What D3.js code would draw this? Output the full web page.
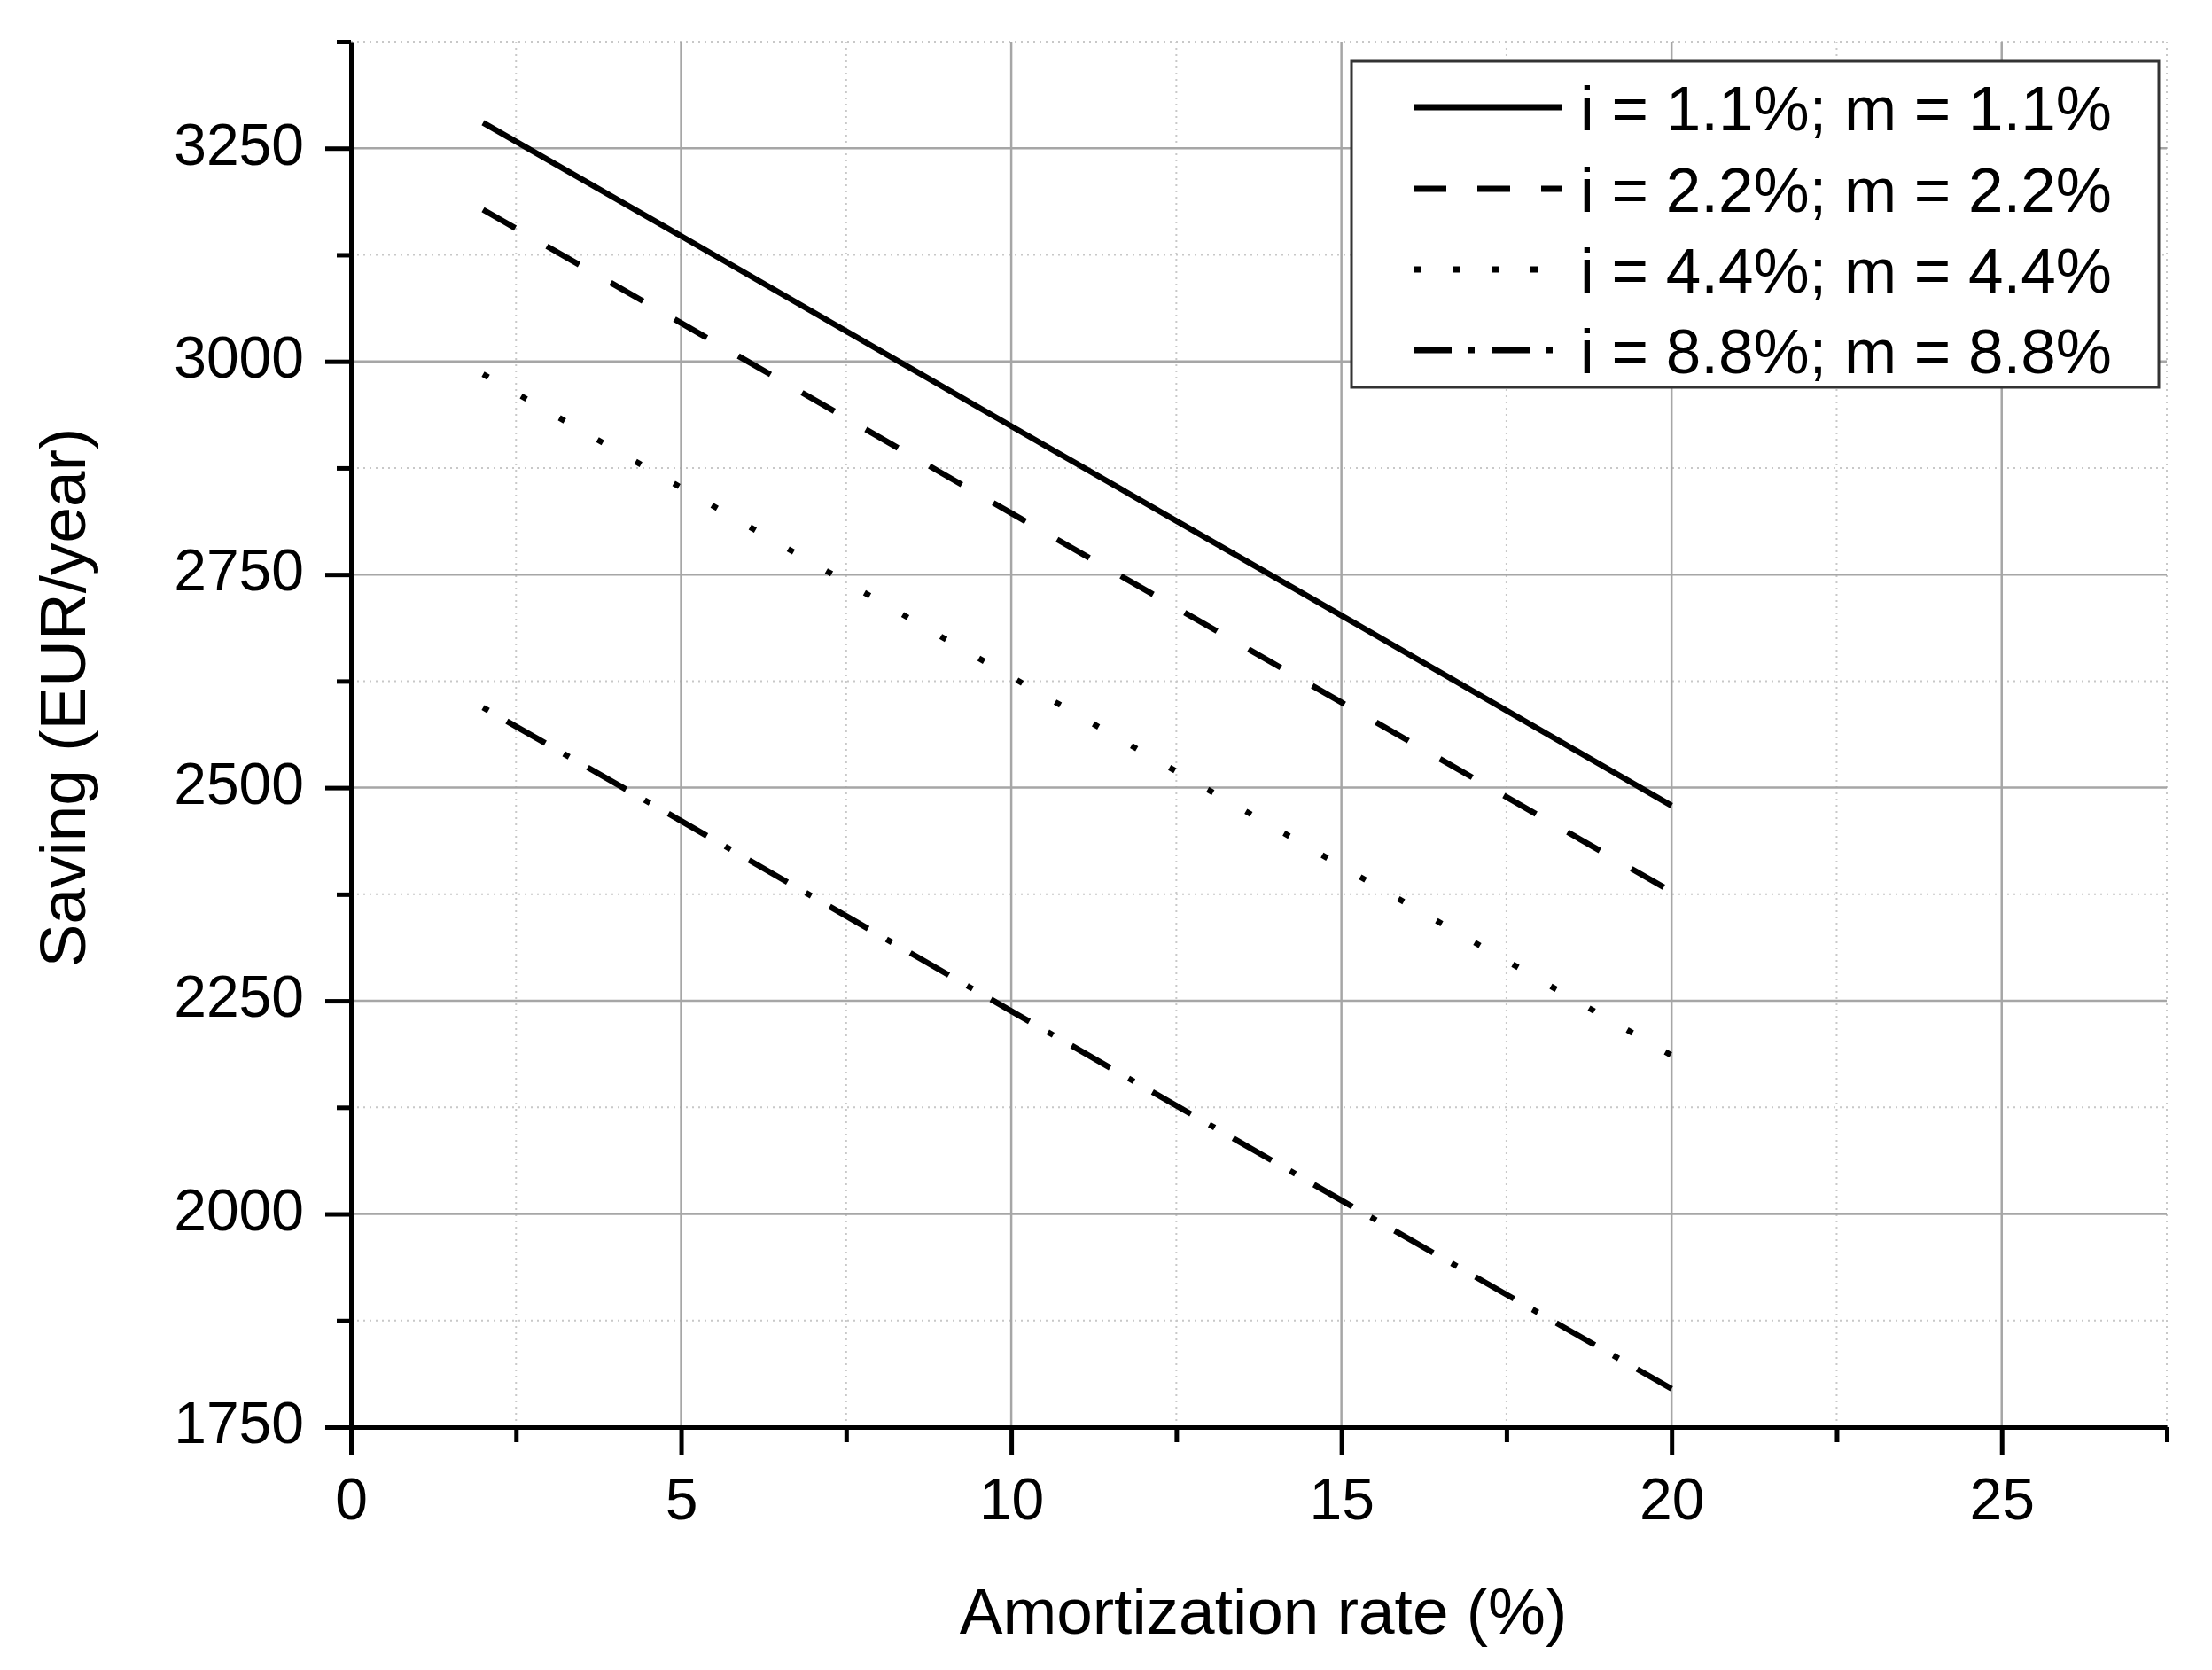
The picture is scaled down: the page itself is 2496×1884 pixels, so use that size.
<!DOCTYPE html>
<html>
<head>
  <meta charset="utf-8">
  <script src="https://d3js.org/d3.v7.min.js"></script>
  <style>
    body { margin: 0; background: #fff; }
    text { font-family: "Liberation Sans", Arial, sans-serif; fill: #000; }
  </style>
</head>
<body>
<script>
  // amortization rate (%) on the x axis
  var rates = [2, 5, 10, 15, 20];
  // saving (EUR/year) for each interest / maintenance pair
  var saving11 = [3280, 3147, 2924, 2702, 2479];
  var saving22 = [3178, 3045, 2822, 2600, 2378];
  var saving44 = [2985, 2852, 2630, 2408, 2186];
  var saving88 = [2594, 2461, 2238, 2016, 1795];
  var seriesNames = ["i = 1.1%; m = 1.1%", "i = 2.2%; m = 2.2%", "i = 4.4%; m = 4.4%", "i = 8.8%; m = 8.8%"];
  var xTicks = [0, 5, 10, 15, 20, 25];
  var xMinor = [2.5, 7.5, 12.5, 17.5, 22.5, 27.5];
  var yTicks = [1750, 2000, 2250, 2500, 2750, 3000, 3250];
  var yMinor = [1875, 2125, 2375, 2625, 2875, 3125, 3375];

  var W = 2496, H = 1884;
  // plot area edges (window.top is reserved, so prefixed names)
  var pLeft = 396, pTop = 47, pRight = 2445, pBottom = 1610;

  var series = [saving11, saving22, saving44, saving88].map(function (v, i) {
    return { name: seriesNames[i], points: rates.map(function (r, j) { return [r, v[j]]; }) };
  });
  // dash styles: on the plot and (a bit tighter) in the legend
  var dashPlot = [null, "42,41", "7,42.6", "7,24,50,24"];
  var dashLegend = [null, "37,35", "8,36", "43,19,7,19"];

  var svg = d3.select("body").append("svg")
      .attr("width", W).attr("height", H);
  svg.append("rect").attr("width", W).attr("height", H).attr("fill", "#fff");

  var x = d3.scaleLinear().domain([0, 27.5]).range([pLeft, pRight]);
  var y = d3.scaleLinear().domain([1750, 3375]).range([pBottom, pTop]);

  // grid: minor dotted first, then major solid
  var grid = svg.append("g");
  grid.selectAll("line.vmin").data(xMinor).enter().append("line")
      .attr("x1", x).attr("x2", x).attr("y1", pTop).attr("y2", pBottom)
      .attr("stroke", "#c8c8c8").attr("stroke-width", 2).attr("stroke-dasharray", "2,5");
  grid.selectAll("line.hmin").data(yMinor).enter().append("line")
      .attr("y1", y).attr("y2", y).attr("x1", pLeft).attr("x2", pRight)
      .attr("stroke", "#c8c8c8").attr("stroke-width", 2).attr("stroke-dasharray", "2,5");
  grid.selectAll("line.vmaj").data(xTicks.slice(1)).enter().append("line")
      .attr("x1", x).attr("x2", x).attr("y1", pTop).attr("y2", pBottom)
      .attr("stroke", "#a6a6a6").attr("stroke-width", 2.5);
  grid.selectAll("line.hmaj").data(yTicks.slice(1)).enter().append("line")
      .attr("y1", y).attr("y2", y).attr("x1", pLeft).attr("x2", pRight)
      .attr("stroke", "#a6a6a6").attr("stroke-width", 2.5);

  // data lines
  var line = d3.line().x(function (d) { return x(d[0]); }).y(function (d) { return y(d[1]); });
  svg.selectAll("path.series").data(series).enter().append("path")
      .attr("class", "series")
      .attr("d", function (d) { return line(d.points); })
      .attr("fill", "none").attr("stroke", "#000").attr("stroke-width", 6.5)
      .attr("stroke-dasharray", function (d, i) { return dashPlot[i]; });

  // axes
  function styleAxis(g) {
    g.selectAll("path.domain").attr("stroke", "#000").attr("stroke-width", 5);
    g.selectAll(".tick line").attr("stroke", "#000").attr("stroke-width", 5);
    g.selectAll(".tick text").style("font-size", "66px").style("font-family", "'Liberation Sans', Arial, sans-serif");
  }
  var xAxis = svg.append("g").attr("transform", "translate(0," + pBottom + ")")
      .call(d3.axisBottom(x).tickValues(xTicks).tickFormat(d3.format("d"))
        .tickSize(31).tickSizeOuter(0).tickPadding(26));
  styleAxis(xAxis);
  var xAxisMinor = svg.append("g").attr("transform", "translate(0," + pBottom + ")")
      .call(d3.axisBottom(x).tickValues(xMinor).tickSize(17).tickSizeOuter(0).tickFormat(""));
  styleAxis(xAxisMinor);
  xAxisMinor.select("path.domain").remove();

  var yAxis = svg.append("g").attr("transform", "translate(" + pLeft + ",0)")
      .call(d3.axisLeft(y).tickValues(yTicks).tickFormat(d3.format("d"))
        .tickSize(29).tickSizeOuter(0).tickPadding(24));
  styleAxis(yAxis);
  yAxis.selectAll(".tick text").attr("dy", "0.27em");
  var yAxisMinor = svg.append("g").attr("transform", "translate(" + pLeft + ",0)")
      .call(d3.axisLeft(y).tickValues(yMinor).tickSize(16).tickSizeOuter(0).tickFormat(""));
  styleAxis(yAxisMinor);
  yAxisMinor.select("path.domain").remove();

  // axis titles
  svg.append("text")
      .attr("x", (pLeft + pRight) / 2 + 5).attr("y", 1843)
      .attr("text-anchor", "middle").style("font-size", "73px")
      .text("Amortization rate (%)");
  svg.append("text")
      .attr("transform", "translate(96,787) rotate(-90)")
      .attr("text-anchor", "middle").style("font-size", "73px")
      .text("Saving (EUR/year)");

  // legend
  var legend = svg.append("g");
  legend.append("rect")
      .attr("x", 1525).attr("y", 69).attr("width", 911).attr("height", 368)
      .attr("fill", "#fff").attr("stroke", "#333").attr("stroke-width", 3);
  var rowY = [121, 213, 304, 395];
  var item = legend.selectAll("g.item").data(series).enter().append("g")
      .attr("transform", function (d, i) { return "translate(0," + rowY[i] + ")"; });
  item.append("line")
      .attr("x1", 1595).attr("x2", 1763).attr("y1", 0).attr("y2", 0)
      .attr("stroke", "#000").attr("stroke-width", 7)
      .attr("stroke-dasharray", function (d, i) { return dashLegend[i]; });
  item.append("text")
      .attr("x", 1783).attr("y", 26)
      .style("font-size", "71px")
      .text(function (d) { return d.name; });
</script>
</body>
</html>
